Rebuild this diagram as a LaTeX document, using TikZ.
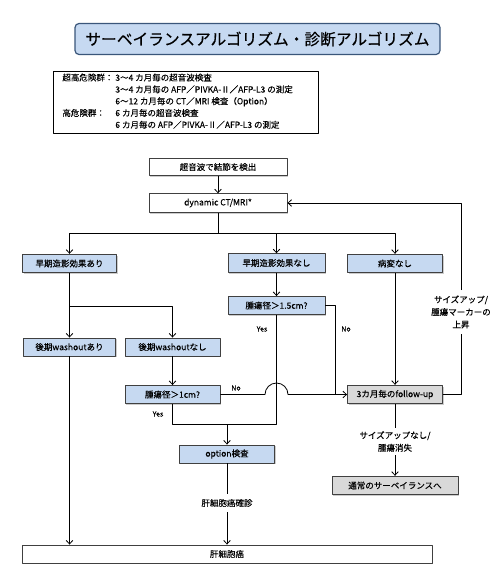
\documentclass[tikz,border=0pt]{standalone}
\usepackage{fontspec}
\setmainfont{Noto Sans CJK JP}[FakeBold=0.35]
\usetikzlibrary{arrows.meta,shadows}
\definecolor{boxblue}{HTML}{C6D9F1}
\definecolor{boxgray}{HTML}{D9D9D9}
\definecolor{boxline}{HTML}{404040}
\definecolor{titleline}{HTML}{3A567A}
\begin{document}
\begin{tikzpicture}[x=1pt,y=-1pt,line join=round,line width=0.8pt,
	flowbox/.style={draw=boxline,line width=0.9pt,minimum height=18.5pt,inner sep=0pt,
		font=\fontsize{8.5}{10}\selectfont,
		drop shadow={shadow xshift=1.3pt,shadow yshift=-1.3pt,fill=black!40}},
	bluebox/.style={flowbox,fill=boxblue,minimum width=95pt},
	graybox/.style={flowbox,fill=boxgray,minimum width=95pt},
	arr/.style={-{Straight Barb[length=3.5pt,width=6.5pt]}},
	lbl/.style={font=\fontsize{8.5}{12.5}\selectfont,align=center,inner xsep=1pt},
	yn/.style={font=\fontsize{7}{8}\selectfont,inner sep=0pt}]
	\useasboundingbox (0,0) rectangle (498,570);
	\node[draw=titleline,line width=1.2pt,fill=boxblue,rounded corners=4pt,minimum width=365pt,
		minimum height=31pt,font=\fontsize{15.7}{18}\selectfont] (title) at (257.5,39)
		{サーベイランスアルゴリズム・診断アルゴリズム};
	\node[draw,line width=0.9pt,minimum width=265pt,minimum height=62pt] (crit) at (185.5,102) {};
	\node[anchor=west,inner sep=0pt,font=\fontsize{8.5}{11.8}\selectfont] (crittext) at (62,102)
		{\begin{tabular}{@{}l@{\hspace{2pt}}l@{}}
			超高危険群：&3～4 カ月毎の超音波検査\\
			&3～4 カ月毎の AFP／PIVKA-Ⅱ／AFP-L3 の測定\\
			&6～12 カ月毎の CT／MRI 検査（Option）\\
			高危険群：&6 カ月毎の超音波検査\\
			&6 カ月毎の AFP／PIVKA-Ⅱ／AFP-L3 の測定
		\end{tabular}};
	\node[flowbox,fill=white,minimum width=138pt,minimum height=17pt] (detect) at (218,167) {超音波で結節を検出};
	\node[flowbox,fill=white,minimum width=138pt] (ct) at (218,203) {dynamic CT/MRI*};
	\node[bluebox,minimum width=94pt] (enhyes) at (69.5,263.5) {早期造影効果あり};
	\node[bluebox,minimum width=97pt] (enhno) at (276.5,263) {早期造影効果なし};
	\node[bluebox] (nolesion) at (395,263.5) {病変なし};
	\node[bluebox,minimum width=97pt,minimum height=18pt] (size15) at (276.5,305.5) {腫瘍径＞1.5cm?};
	\node[bluebox,minimum width=92pt,minimum height=18pt] (washyes) at (69.5,347) {後期washoutあり};
	\node[bluebox,minimum height=18pt] (washno) at (172.5,347) {後期washoutなし};
	\node[bluebox,minimum height=18pt] (size1) at (172.5,394.5) {腫瘍径＞1cm?};
	\node[graybox] (follow) at (395,394.5) {3カ月毎のfollow-up};
	\node[graybox,minimum width=126pt] (usual) at (395,485.5) {通常のサーベイランスへ};
	\node[bluebox,minimum height=18pt] (option) at (227,454) {option検査};
	\node[flowbox,fill=white,minimum width=410pt,minimum height=18pt] (hcc) at (227,554) {肝細胞癌};
	\node[lbl,inner ysep=5pt] (rise) at (461,312) {サイズアップ/\\腫瘍マーカーの\\上昇};
	\node[lbl,inner ysep=3pt] (stable) at (395,441.5) {サイズアップなし/\\腫瘍消失};
	\node[lbl,inner ysep=5pt] (confirm) at (227,503) {肝細胞癌確診};
	\node[yn] (yes15) at (262,329) {Yes};
	\node[yn] (no15) at (346,329) {No};
	\node[yn] (no1) at (236,388) {No};
	\node[yn] (yes1) at (158,414) {Yes};
	\coordinate (split) at (218,233.5);
	\coordinate (wsplit) at (69.5,306);
	\coordinate (nojoin) at (335,394.5);
	\coordinate (hop) at (276.5,394.5);
	\coordinate (yesjoin) at (276.5,424);
	\draw[arr] (detect.south) -- (ct.north);
	\draw (ct.south) -- (split);
	\draw[arr] (split) -| (enhyes.north);
	\draw[arr] (split) -| (nolesion.north);
	\draw[arr] (split -| enhno.north) -- (enhno.north);
	\draw (enhyes.south) -- (wsplit);
	\draw[arr] (wsplit) -- (washyes.north);
	\draw[arr] (wsplit) -| (washno.north);
	\draw[arr] (enhno.south) -- (size15.north);
	\draw[arr] (washno.south) -- (size1.north);
	\draw[arr] (washyes.south) -- (washyes.south |- hcc.north);
	\draw[arr] (nolesion.south) -- (follow.north);
	\draw (size15.east) -| (nojoin);
	\draw[arr] (size1.east) -- ([xshift=-11.5pt]hop) arc[start angle=180,end angle=0,radius=11.5pt] -- (follow.west);
	\draw (size15.south) -- (yesjoin) -| (size1.south);
	\draw[arr] (option.north |- yesjoin) -- (option.north);
	\draw (follow.east) -| (rise.south);
	\draw[arr] (rise.north) |- (ct.east);
	\draw (follow.south) -- (stable.north);
	\draw[arr] (stable.south) -- (usual.north);
	\draw (option.south) -- (confirm.north);
	\draw[arr] (confirm.south) -- (hcc.north);
\end{tikzpicture}
\end{document}
